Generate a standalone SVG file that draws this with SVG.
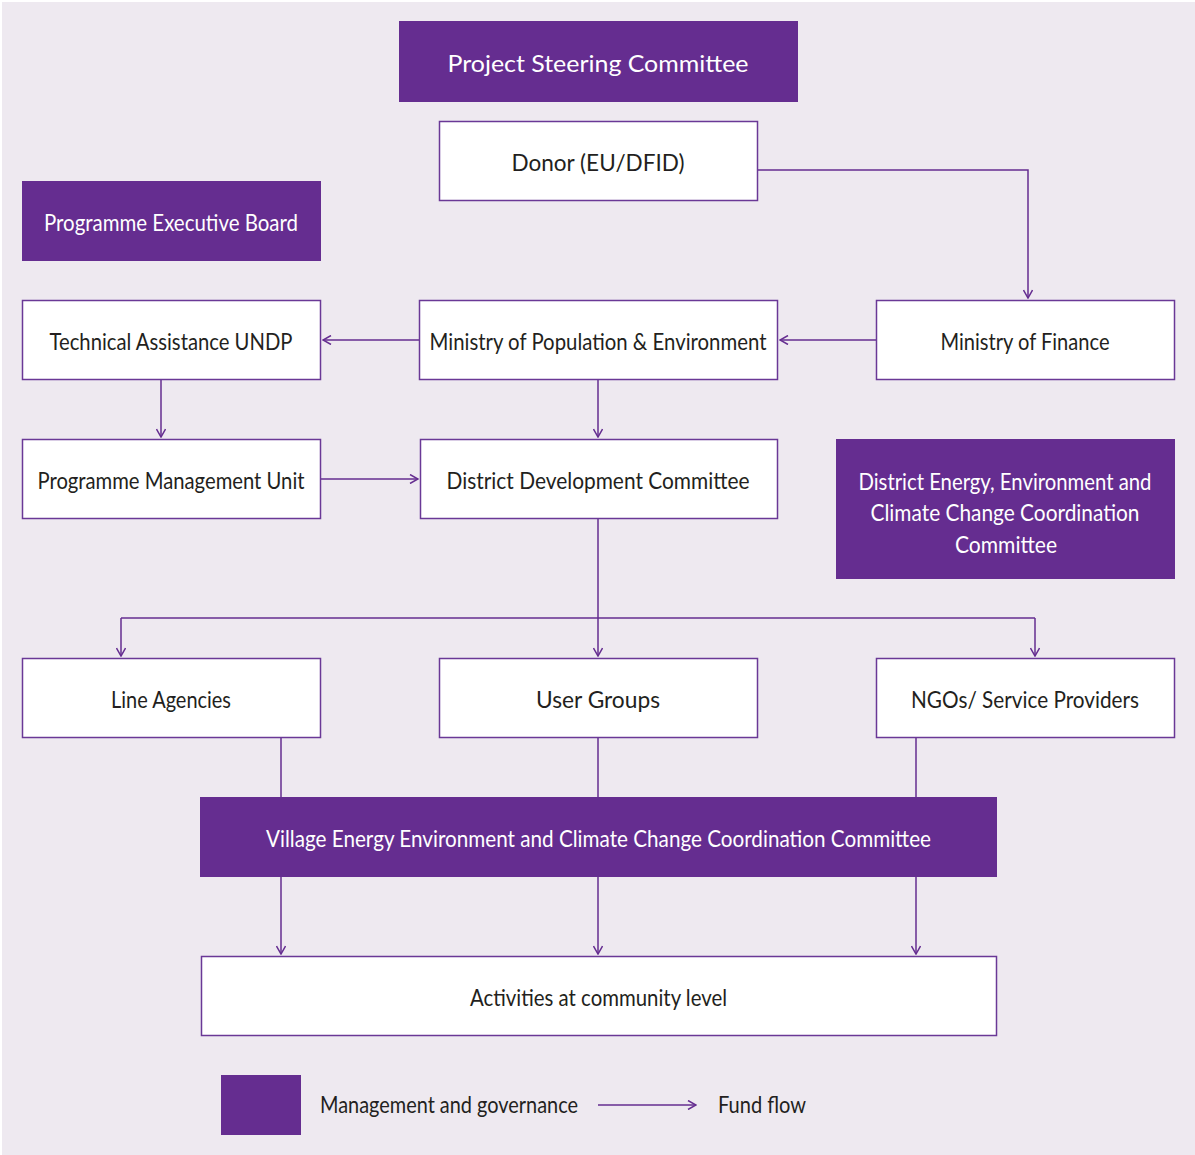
<svg xmlns="http://www.w3.org/2000/svg" width="1195" height="1155" viewBox="0 0 1195 1155">
<defs>
<style>
.bg{fill:#eee9f0}
.p{fill:#652d90}
.w{fill:#ffffff;stroke:#6a3896;stroke-width:1.5}
.t{font-family:Lato,"Liberation Sans",sans-serif;font-size:23px;fill:#231f20;text-anchor:middle}
.tw{font-family:Lato,"Liberation Sans",sans-serif;font-size:23px;fill:#ffffff;text-anchor:middle}
.tl{font-family:Lato,"Liberation Sans",sans-serif;font-size:23px;fill:#231f20}
.c{fill:none;stroke:#652d90;stroke-width:1.5}
</style>
<marker id="ah" viewBox="0 0 10 10" refX="9" refY="5" markerWidth="10" markerHeight="10" markerUnits="userSpaceOnUse" orient="auto">
<path d="M1,0.5 L9,5 L1,9.5" fill="none" stroke="#652d90" stroke-width="1.5"/>
</marker>
</defs>
<rect x="0" y="0" width="1195" height="1155" fill="#ffffff"/>
<rect class="bg" x="2" y="2" width="1193" height="1153"/>

<g id="connectors">
<path class="c" d="M758,170 H1028 V298" marker-end="url(#ah)"/>
<path class="c" d="M876,340 H780" marker-end="url(#ah)"/>
<path class="c" d="M419,340 H323" marker-end="url(#ah)"/>
<path class="c" d="M161,380 V437" marker-end="url(#ah)"/>
<path class="c" d="M321,479 H418" marker-end="url(#ah)"/>
<path class="c" d="M598,380 V437" marker-end="url(#ah)"/>
<path class="c" d="M598,519 V656" marker-end="url(#ah)"/>
<path class="c" d="M121,618 H1035"/>
<path class="c" d="M121,618 V656" marker-end="url(#ah)"/>
<path class="c" d="M1035,618 V656" marker-end="url(#ah)"/>
<path class="c" d="M281,738 V797"/>
<path class="c" d="M598,738 V797"/>
<path class="c" d="M916,738 V797"/>
<path class="c" d="M281,877 V954" marker-end="url(#ah)"/>
<path class="c" d="M598,877 V954" marker-end="url(#ah)"/>
<path class="c" d="M916,877 V954" marker-end="url(#ah)"/>
</g>

<g id="psc">
<rect class="p" x="399" y="21" width="399" height="81"/>
<text class="tw" x="598" y="72" textLength="301" lengthAdjust="spacingAndGlyphs">Project Steering Committee</text>
</g>
<g id="donor">
<rect class="w" x="439.5" y="121.5" width="318" height="79"/>
<text class="t" x="598" y="171" textLength="173" lengthAdjust="spacingAndGlyphs">Donor (EU/DFID)</text>
</g>
<g id="peb">
<rect class="p" x="22" y="181" width="299" height="80"/>
<text class="tw" x="171" y="231" textLength="254" lengthAdjust="spacingAndGlyphs">Programme Executive Board</text>
</g>
<g id="ta">
<rect class="w" x="22.5" y="300.5" width="298" height="79"/>
<text class="t" x="171" y="350" textLength="243" lengthAdjust="spacingAndGlyphs">Technical Assistance UNDP</text>
</g>
<g id="mope">
<rect class="w" x="419.5" y="300.5" width="358" height="79"/>
<text class="t" x="598" y="350" textLength="337" lengthAdjust="spacingAndGlyphs">Ministry of Population &amp; Environment</text>
</g>
<g id="mof">
<rect class="w" x="876.5" y="300.5" width="298" height="79"/>
<text class="t" x="1025" y="350" textLength="169" lengthAdjust="spacingAndGlyphs">Ministry of Finance</text>
</g>
<g id="pmu">
<rect class="w" x="22.5" y="439.5" width="298" height="79"/>
<text class="t" x="171" y="489" textLength="267" lengthAdjust="spacingAndGlyphs">Programme Management Unit</text>
</g>
<g id="ddc">
<rect class="w" x="420.5" y="439.5" width="357" height="79"/>
<text class="t" x="598" y="489" textLength="303" lengthAdjust="spacingAndGlyphs">District Development Committee</text>
</g>
<g id="deeccc">
<rect class="p" x="836" y="439" width="339" height="140"/>
<text class="tw" x="1005" y="490" textLength="293" lengthAdjust="spacingAndGlyphs">District Energy, Environment and</text>
<text class="tw" x="1005" y="521" textLength="269" lengthAdjust="spacingAndGlyphs">Climate Change Coordination</text>
<text class="tw" x="1006" y="553" textLength="102" lengthAdjust="spacingAndGlyphs">Committee</text>
</g>
<g id="la">
<rect class="w" x="22.5" y="658.5" width="298" height="79"/>
<text class="t" x="171" y="708" textLength="120" lengthAdjust="spacingAndGlyphs">Line Agencies</text>
</g>
<g id="ug">
<rect class="w" x="439.5" y="658.5" width="318" height="79"/>
<text class="t" x="598" y="708" textLength="124" lengthAdjust="spacingAndGlyphs">User Groups</text>
</g>
<g id="ngo">
<rect class="w" x="876.5" y="658.5" width="298" height="79"/>
<text class="t" x="1025" y="708" textLength="228" lengthAdjust="spacingAndGlyphs">NGOs/ Service Providers</text>
</g>
<g id="veeccc">
<rect class="p" x="200" y="797" width="797" height="80"/>
<text class="tw" x="598.5" y="847" textLength="665" lengthAdjust="spacingAndGlyphs">Village Energy Environment and Climate Change Coordination Committee</text>
</g>
<g id="acl">
<rect class="w" x="201.5" y="956.5" width="795" height="79"/>
<text class="t" x="598.5" y="1006" textLength="257" lengthAdjust="spacingAndGlyphs">Activities at community level</text>
</g>
<g id="legend">
<rect class="p" x="221" y="1075" width="80" height="60"/>
<text class="tl" x="320" y="1113" textLength="258" lengthAdjust="spacingAndGlyphs">Management and governance</text>
<path class="c" d="M598,1105 H696" marker-end="url(#ah)"/>
<text class="tl" x="718" y="1113" textLength="88" lengthAdjust="spacingAndGlyphs">Fund flow</text>
</g>
</svg>
